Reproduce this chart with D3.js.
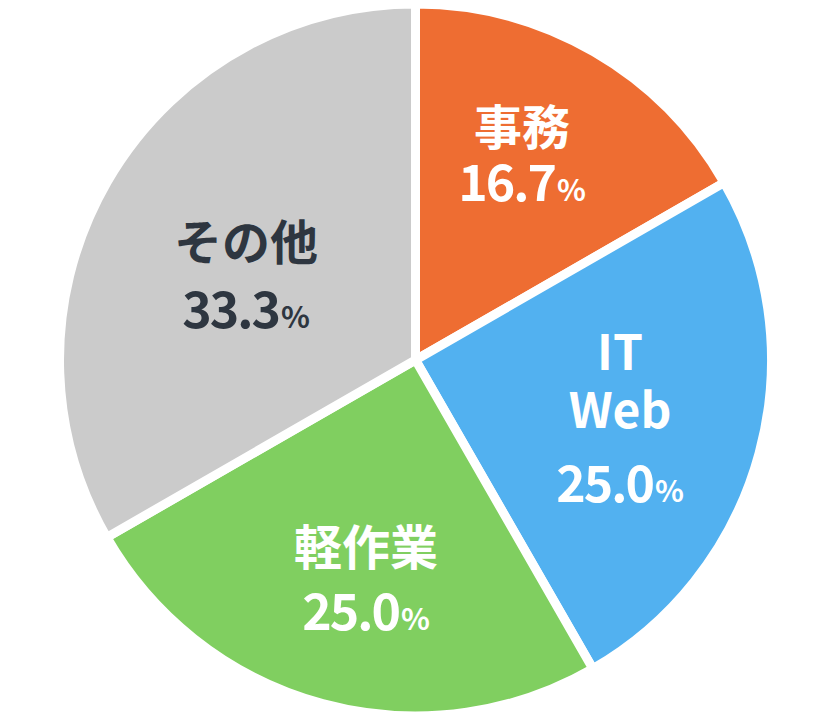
<!DOCTYPE html>
<html><head><meta charset="utf-8">
<script src="https://cdn.jsdelivr.net/npm/d3@7"></script>
<style>html,body{margin:0;padding:0;background:#fff;}svg{display:block;}</style>
</head><body>
<script>
const categories = ["事務", "IT\nWeb", "軽作業", "その他"];
const values = [16.7, 25.0, 25.0, 33.3];
const valueLabels = ["16.7", "25.0", "25.0", "33.3"];
const colors = ["#EE6D32", "#52B1F0", "#80CF60", "#CBCBCB"];
const textColors = ["#ffffff", "#ffffff", "#ffffff", "#2E3640"];

const W = 830, H = 722, cx = 415.5, cy = 360, R = 356;
// layout: x, baselines of name lines, baseline of value line
const labelLayout = [
  {x: 522, lines: [145], val: 201},
  {x: 620, lines: [370, 428], val: 502},
  {x: 366, lines: [565], val: 630},
  {x: 246, lines: [260], val: 328}
];

const svg = d3.select("body").append("svg").attr("width", W).attr("height", H);
const g = svg.append("g").attr("transform", `translate(${cx},${cy})`);
const data = categories.map((c, i) => ({c, v: values[i], lab: valueLabels[i], col: colors[i], tc: textColors[i], i}));
const pie = d3.pie().value(d => d.v).sort(null);
const arc = d3.arc().innerRadius(0).outerRadius(R);

g.selectAll("path").data(pie(data)).join("path")
  .attr("d", arc).attr("fill", d => d.data.col)
  .attr("stroke", "#fff").attr("stroke-width", 9).attr("stroke-linejoin", "miter");

const font = "'Noto Sans CJK JP', 'Noto Sans', sans-serif";
data.forEach((d, i) => {
  const L = labelLayout[i];
  const lines = d.c.split("\n");
  const t = svg.append("text").attr("text-anchor", "middle").attr("fill", d.tc)
    .style("font-family", font).style("font-weight", 700);
  lines.forEach((ln, k) => {
    t.append("tspan").attr("x", L.x).attr("y", L.lines[k]).style("font-size", "48px").text(ln);
  });
  const vt = svg.append("text").attr("text-anchor", "middle").attr("fill", d.tc)
    .style("font-family", font).style("font-weight", 700)
    .attr("x", L.x).attr("y", L.val);
  vt.append("tspan").style("font-size", "50px").style("letter-spacing", "-2px").text(d.lab);
  vt.append("tspan").style("font-size", "30px").attr("dx", 2).text("%");
});
</script>
</body></html>
